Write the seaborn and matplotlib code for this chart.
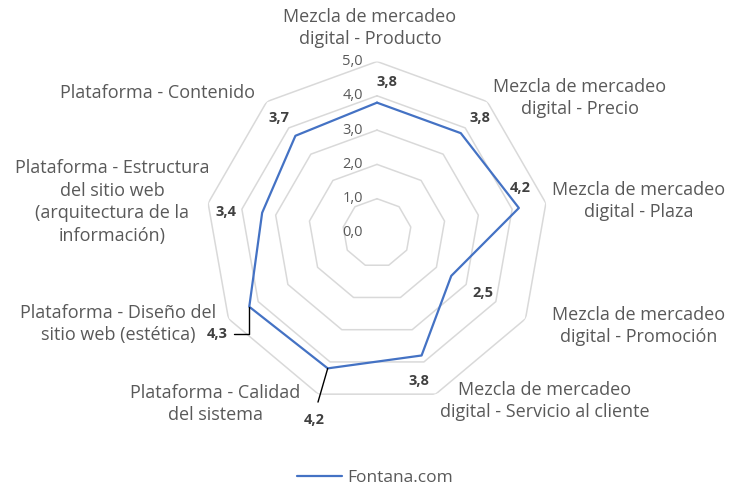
import numpy as np
import pandas as pd
import matplotlib
matplotlib.use("Agg")
import matplotlib.pyplot as plt
import seaborn as sns

# ---------------- data ----------------
categories = [
    "Mezcla de mercadeo\ndigital - Producto",
    "Mezcla de mercadeo\ndigital - Precio",
    "Mezcla de mercadeo\ndigital - Plaza",
    "Mezcla de mercadeo\ndigital - Promoción",
    "Mezcla de mercadeo\ndigital - Servicio al cliente",
    "Plataforma - Calidad\ndel sistema",
    "Plataforma - Diseño del\nsitio web (estética)",
    "Plataforma - Estructura\ndel sitio web\n(arquitectura de la\ninformación)",
    "Plataforma - Contenido",
]
values = [3.8, 3.8, 4.2, 2.5, 3.8, 4.2, 4.3, 3.4, 3.7]
series_name = "Fontana.com"
ring_levels = [0, 1, 2, 3, 4, 5]
ring_labels = ["0,0", "1,0", "2,0", "3,0", "4,0", "5,0"]

# ---------------- layout ----------------
W, H = 753, 496
CX, CY, R = 377, 233, 171.5  # pixel centre/radius of polar area
# category label centres (pixels from top-left)
cat_pos = [(370, 28), (580, 98), (639, 201), (639, 326), (545, 401),
           (215, 404), (118, 324), (112, 202), (157.5, 93)]
LINE_H = 22.5  # pixel distance between label lines
# data-label offsets in pixels (x right, y up)
lab_off = [(10, 21), (19, 15), (1, 20), (32, -17), (-3, -26),
           (-13, -52), (-32, -27), (-36, 1), (-16, 18)]

TEXT = "#595959"
LAB = "#404040"
GRID = "#D9D9D9"
BLUE = "#4472C4"

sns.set_theme(style="white")
plt.rcParams["font.family"] = ["Open Sans", "DejaVu Sans"]

fig = plt.figure(figsize=(W / 100, H / 100), dpi=100)
fig.patch.set_facecolor("white")
ax = fig.add_axes([(CX - R) / W, (H - CY - R) / H, 2 * R / W, 2 * R / H],
                  projection="polar")
ax.set_theta_offset(np.pi / 2)
ax.set_theta_direction(-1)
ax.set_ylim(0, 5)
ax.grid(False)
ax.spines["polar"].set_visible(False)
ax.set_xticks([])
ax.set_yticks([])
ax.set_facecolor("none")

n = len(categories)
angles = [2 * np.pi * i / n for i in range(n)]
ang_closed = angles + [2 * np.pi]

# polygon rings
for lvl in ring_levels[1:]:
    ax.plot(ang_closed, [lvl] * (n + 1), color=GRID, lw=1.1, zorder=1)

# radial tick labels
for lvl, txt in zip(ring_levels, ring_labels):
    ax.annotate(txt, xy=(0, lvl), xytext=(-14, 0), textcoords="offset pixels",
                ha="right", va="center", fontsize=10.5, color=TEXT)

# data series
df = pd.DataFrame({"angle": ang_closed, "value": values + [values[0]],
                   "serie": series_name})
sns.lineplot(data=df, x="angle", y="value", sort=False, ax=ax, color=BLUE,
             lw=1.6, legend=False, zorder=3, estimator=None)

# data labels
for i, (a, v) in enumerate(zip(angles, values)):
    txt = f"{v:.1f}".replace(".", ",")
    dx, dy = lab_off[i]
    kw = {}
    if i == 5:
        kw["arrowprops"] = dict(arrowstyle="-", color="black", lw=1.0,
                                shrinkA=6, shrinkB=0, relpos=(0.5, 1.0))
    elif i == 6:
        kw["arrowprops"] = dict(arrowstyle="-", color="black", lw=1.0,
                                shrinkA=2, shrinkB=0, relpos=(1.0, 0.5),
                                connectionstyle="angle,angleA=0,angleB=90,rad=0")
    ax.annotate(txt, xy=(a, v), xytext=(dx, dy), textcoords="offset pixels",
                ha="center", va="center", fontsize=10.5, fontweight="bold",
                color=LAB, zorder=4, **kw)

# category labels (one text per line, centred block)
for lab, (px, py) in zip(categories, cat_pos):
    lines = lab.split("\n")
    top = py - LINE_H * (len(lines) - 1) / 2
    for k, line in enumerate(lines):
        fig.text(px / W, 1 - (top + k * LINE_H) / H, line, ha="center",
                 va="center", fontsize=13, color=TEXT)

# legend
handles = [plt.Line2D([], [], color=BLUE, lw=1.6)]
fig.legend(handles, [series_name], loc="center",
           bbox_to_anchor=(375 / W, 1 - 478 / H), frameon=False,
           fontsize=12.5, labelcolor=TEXT, handlelength=2.6, handletextpad=0.3)

fig.savefig("out.png", dpi=100, facecolor="white")
